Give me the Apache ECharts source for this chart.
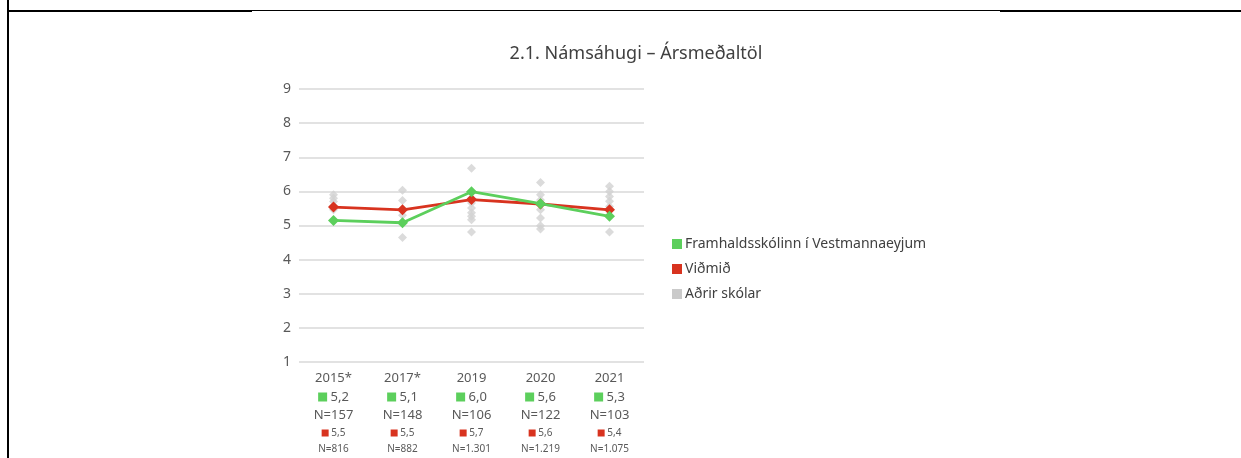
<!DOCTYPE html>
<html>
<head>
<meta charset="utf-8">
<script src="https://cdn.jsdelivr.net/npm/echarts@6/dist/echarts.min.js"></script>
<style>
  html, body { margin: 0; padding: 0; background: #fff; }
  #chart { width: 1241px; height: 458px; }
</style>
</head>
<body>
<div id="chart"></div>
<script>
// categories and values
const years = ['2015*', '2017*', '2019', '2020', '2021']
const schoolValues = [5.15, 5.08, 5.99, 5.64, 5.27]
const benchValues = [5.54, 5.46, 5.76, 5.63, 5.46]
const schoolLabels = ['5,2', '5,1', '6,0', '5,6', '5,3']
const schoolN = ['157', '148', '106', '122', '103']
const benchLabels = ['5,5', '5,5', '5,7', '5,6', '5,4']
const benchN = ['816', '882', '1.301', '1.219', '1.075']
// other schools, one list per year
const otherSchools = [
  [5.9, 5.8, 5.7, 5.58, 5.46],
  [6.03, 5.73, 5.46, 5.3, 4.65],
  [6.68, 5.8, 5.66, 5.51, 5.37, 5.27, 5.17, 4.81],
  [6.26, 5.9, 5.75, 5.46, 5.22, 4.99, 4.9],
  [6.15, 6.0, 5.85, 5.71, 5.56, 5.46, 4.81]
]
const yTicks = { min: 1, max: 9, interval: 1 }

const GREEN = '#5ccf5c'
const RED = '#d8331f'
const GREY = '#bdbdbd'
const TXT = '#595959'
const FONT = '"Noto Sans", "Open Sans", sans-serif'

let otherData = []
otherSchools.forEach((list, i) => {
  list.forEach(v => otherData.push([i, v]))
})

let chart = echarts.init(document.getElementById('chart'))

const option = {
  animation: false,
  textStyle: { fontFamily: FONT },
  title: {
    text: '2.1. Námsáhugi – Ársmeðaltöl',
    left: 631,
    top: 40,
    textAlign: 'center',
    textStyle: { fontSize: 18, fontWeight: 'normal', color: '#404040', fontFamily: FONT }
  },
  legend: {
    orient: 'vertical',
    left: 667,
    top: 232,
    itemWidth: 10,
    itemHeight: 10,
    itemGap: 11,
    icon: 'rect',
    textStyle: { fontSize: 14, color: '#404040', fontFamily: FONT, padding: [0, 0, 0, -2] },
    data: [
      { name: 'Framhaldsskólinn í Vestmannaeyjum', itemStyle: { color: GREEN } },
      { name: 'Viðmið', itemStyle: { color: RED } },
      { name: 'Aðrir skólar', itemStyle: { color: GREY } }
    ]
  },
  grid: { left: 299, right: 597, top: 89, bottom: 96 },
  xAxis: {
    type: 'category',
    data: years,
    boundaryGap: true,
    axisLine: { show: false },
    axisTick: { show: false },
    axisLabel: {
      margin: 6,
      interval: 0,
      formatter: function (val, i) {
        return '{yr|' + val + '}\n' +
          '{gsq|}{gv| ' + schoolLabels[i] + '}\n' +
          '{n|N=' + schoolN[i] + '}\n' +
          '{rsq|}{rv| ' + benchLabels[i] + '}\n' +
          '{rn|N=' + benchN[i] + '}'
      },
      rich: {
        yr: { fontSize: 13, color: TXT, lineHeight: 20, fontFamily: FONT },
        gsq: { width: 9, height: 9, backgroundColor: GREEN },
        gv: { fontSize: 13, color: TXT, lineHeight: 18, fontFamily: FONT },
        n: { fontSize: 13, color: TXT, lineHeight: 18, fontFamily: FONT },
        rsq: { width: 7, height: 7, backgroundColor: RED },
        rv: { fontSize: 10, color: TXT, lineHeight: 18, fontFamily: FONT },
        rn: { fontSize: 10, color: TXT, lineHeight: 15, fontFamily: FONT }
      }
    }
  },
  yAxis: {
    type: 'value',
    min: yTicks.min,
    max: yTicks.max,
    interval: yTicks.interval,
    axisLine: { show: false },
    axisTick: { show: false },
    axisLabel: { fontSize: 14, color: TXT, margin: 8, fontFamily: FONT },
    splitLine: { lineStyle: { color: '#d9d9d9', width: 1.5 } }
  },
  series: [
    {
      name: 'Aðrir skólar',
      type: 'scatter',
      data: otherData,
      symbol: 'diamond',
      symbolSize: 9,
      itemStyle: { color: '#d2d2d2' },
      z: 1
    },
    {
      name: 'Viðmið',
      type: 'line',
      data: benchValues,
      symbol: 'diamond',
      symbolSize: 11,
      lineStyle: { color: RED, width: 2.8 },
      itemStyle: { color: RED },
      z: 3
    },
    {
      name: 'Framhaldsskólinn í Vestmannaeyjum',
      type: 'line',
      data: schoolValues,
      symbol: 'diamond',
      symbolSize: 11,
      lineStyle: { color: GREEN, width: 2.8 },
      itemStyle: { color: GREEN },
      z: 4
    }
  ],
  graphic: [
    { type: 'line', shape: { x1: 8, y1: 0, x2: 8, y2: 458 }, style: { stroke: '#000', lineWidth: 2 } },
    { type: 'line', shape: { x1: 8, y1: 11, x2: 252, y2: 11 }, style: { stroke: '#000', lineWidth: 2 } },
    { type: 'line', shape: { x1: 252, y1: 10.5, x2: 1000, y2: 10.5 }, style: { stroke: '#000', lineWidth: 1 } },
    { type: 'line', shape: { x1: 1000, y1: 11, x2: 1241, y2: 11 }, style: { stroke: '#000', lineWidth: 2 } }
  ]
}

chart.setOption(option)
</script>
</body>
</html>
